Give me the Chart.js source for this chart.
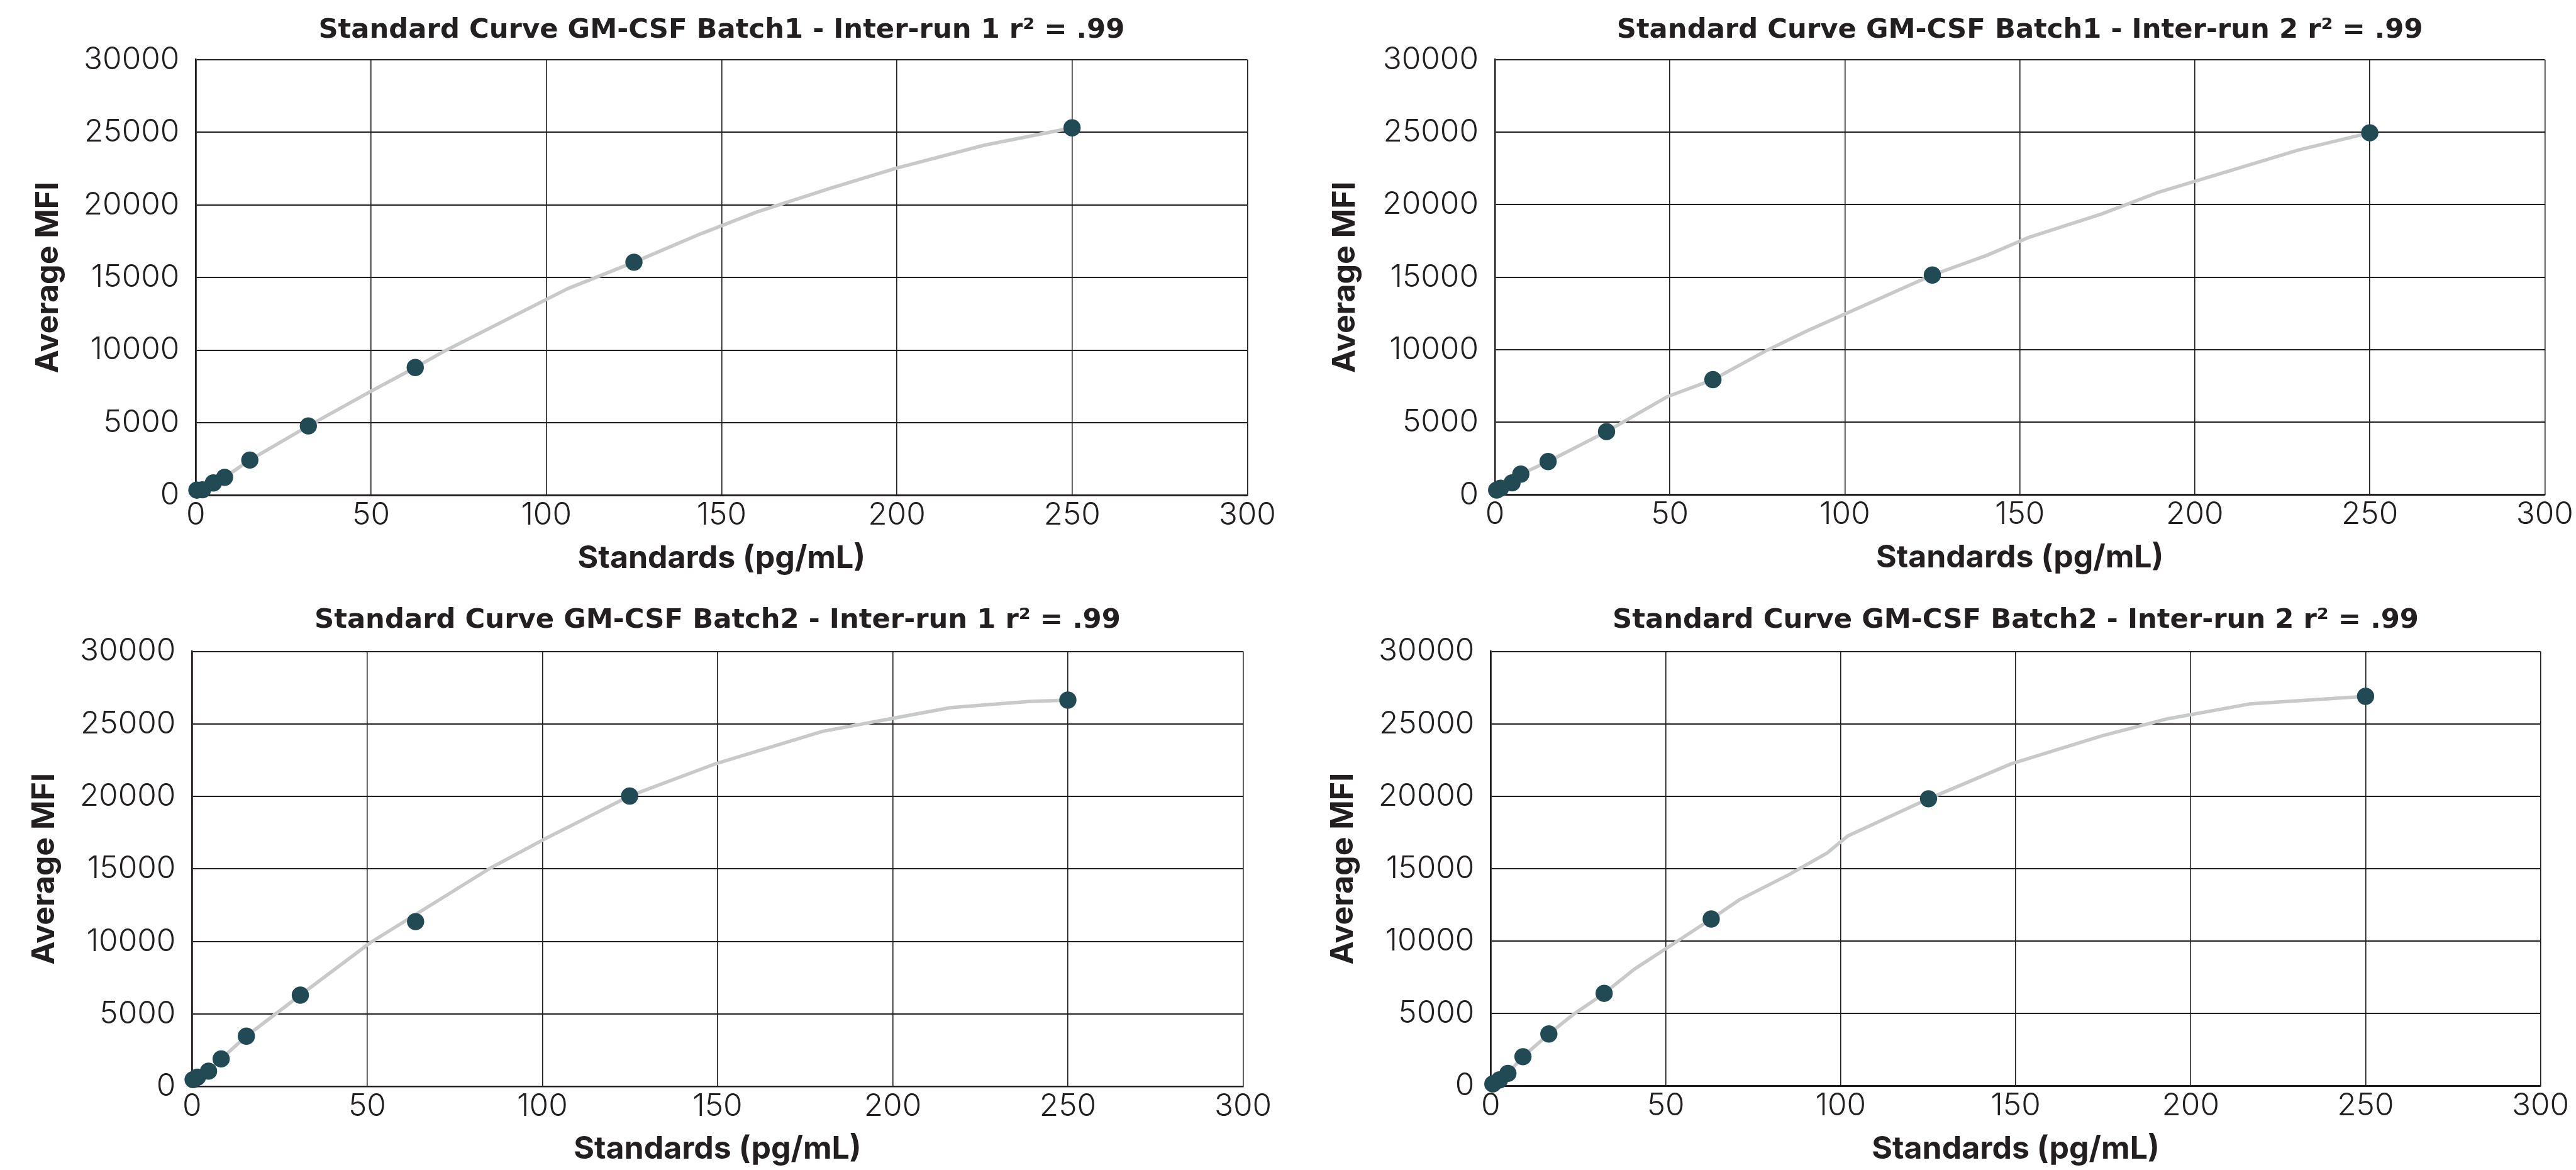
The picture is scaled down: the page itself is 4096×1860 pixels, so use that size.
<!DOCTYPE html>
<html>
<head>
<meta charset="utf-8">
<script src="https://cdn.jsdelivr.net/npm/chart.js@4.4.1/dist/chart.umd.min.js"></script>
<style>
  html, body { margin: 0; padding: 0; background: #ffffff; }
  #wrap { position: relative; width: 4096px; height: 1860px; overflow: hidden; background: #ffffff; }
  canvas { position: absolute; }
</style>
</head>
<body>
<div id="wrap">
  <canvas id="c0" width="2048" height="930" style="left:0px;top:0px"></canvas>
  <canvas id="c1" width="2048" height="930" style="left:2048px;top:0px"></canvas>
  <canvas id="c2" width="2048" height="930" style="left:0px;top:930px"></canvas>
  <canvas id="c3" width="2048" height="930" style="left:2048px;top:930px"></canvas>
</div>
<script>
// ---------- DATA ----------
const chartTitles = [
  'Standard Curve GM-CSF Batch1 - Inter-run 1 r\u00B2 = .99',
  'Standard Curve GM-CSF Batch1 - Inter-run 2 r\u00B2 = .99',
  'Standard Curve GM-CSF Batch2 - Inter-run 1 r\u00B2 = .99',
  'Standard Curve GM-CSF Batch2 - Inter-run 2 r\u00B2 = .99'
];
const xAxisTitle = 'Standards (pg/mL)';
const yAxisTitle = 'Average MFI';
const xTickValues = [0, 50, 100, 150, 200, 250, 300];
const yTickValues = [0, 5000, 10000, 15000, 20000, 25000, 30000];

// Batch1 - Inter-run 1
const b1r1StdX  = [0.3, 1.9, 5.0, 8.2, 15.4, 32.1, 62.6, 125, 250];
const b1r1MfiY  = [360, 385, 855, 1240, 2430, 4780, 8800, 16050, 25300];
const b1r1FitX  = [0.3, 1.9, 5.0, 8.2, 15.4, 32.1, 50, 62.6, 71, 106, 125, 144, 160, 181, 200, 225, 250];
const b1r1FitY  = [360, 385, 855, 1240, 2430, 4780, 7170, 8800, 9940, 14220, 16050, 18000, 19500, 21140, 22530, 24110, 25300];

// Batch1 - Inter-run 2
const b1r2StdX  = [0.5, 1.6, 4.9, 7.4, 15.2, 31.9, 62.3, 125, 250];
const b1r2MfiY  = [330, 460, 825, 1430, 2295, 4360, 7940, 15150, 24950];
const b1r2FitX  = [0.5, 1.6, 4.9, 7.4, 15.2, 31.9, 49.2, 62.3, 77.3, 89.1, 110.2, 125, 140.6, 152.3, 173.4, 189.8, 206.2, 229.7, 250];
const b1r2FitY  = [330, 460, 825, 1430, 2295, 4360, 6760, 7940, 9910, 11290, 13560, 15150, 16510, 17720, 19360, 20870, 22060, 23770, 24950];

// Batch2 - Inter-run 1
const b2r1StdX  = [0.3, 1.5, 4.7, 8.3, 15.5, 30.9, 63.8, 124.9, 250];
const b2r1MfiY  = [470, 640, 1055, 1900, 3470, 6300, 11370, 20030, 26640];
const b2r1FitX  = [0.3, 1.5, 4.7, 8.3, 15.5, 30.9, 50.9, 85, 100.2, 112, 124.9, 149.5, 180, 198.8, 216.4, 238.7, 250];
const b2r1FitY  = [470, 640, 1055, 1900, 3470, 6300, 9920, 15040, 17010, 18450, 20030, 22260, 24490, 25330, 26120, 26540, 26640];

// Batch2 - Inter-run 2
const b2r2StdX  = [0.6, 2.5, 4.9, 9.2, 16.6, 32.4, 63, 125.1, 250];
const b2r2MfiY  = [150, 430, 880, 2030, 3595, 6400, 11530, 19830, 26900];
const b2r2FitX  = [0.6, 2.5, 4.9, 9.2, 16.6, 23.4, 32.4, 41, 52.7, 63, 71, 85.5, 96.1, 102, 125.1, 148.8, 174.6, 193.4, 216.9, 250];
const b2r2FitY  = [150, 430, 880, 2030, 3595, 4910, 6400, 8065, 9905, 11530, 12850, 14630, 16080, 17260, 19830, 22250, 24170, 25350, 26375, 26900];

// ---------- LAYOUT / STYLE ----------
const W = 2048, H = 930;
const TEXT = '#231f20';
const GRID = '#231f20';
const DOT = '#224a55';
const LINE = '#c8c9ca';
const FONT = 'Inter, "Noto Sans", sans-serif';
const TITLE_FONT = '"DejaVu Sans", Inter, sans-serif';
const titleSize = 43.3, axisTitleSize = 50, tickSize = 49.5;

const layouts = [
  { left: 311.4, right: 1983.3, top: 94.7,  bottom: 787.5, titleC: 48.7, yTitleC: 76.5 },
  { left: 329.0, right: 1998.3, top: 94.7,  bottom: 786.7, titleC: 48.7, yTitleC: 91.0 },
  { left: 305.4, right: 1976.5, top: 105.6, bottom: 797.2, titleC: 56.3, yTitleC: 70.5 },
  { left: 322.4, right: 1991.6, top: 105.6, bottom: 796.6, titleC: 56.3, yTitleC: 87.5 }
];

function pts(xs, ys) { return xs.map((x, i) => ({ x: x, y: ys[i] })); }

function makeChart(id, title, dx, dy, fx, fy, L) {
  const tLH = titleSize * 1.2, aLH = axisTitleSize * 1.2, kLH = tickSize * 1.2;
  const titlePadTop = L.titleC - tLH / 2;
  return new Chart(document.getElementById(id), {
    type: 'scatter',
    data: {
      datasets: [
        { data: pts(dx, dy), showLine: false, pointRadius: 13.7, pointHoverRadius: 13.7,
          pointBackgroundColor: DOT, pointBorderColor: DOT, pointBorderWidth: 0,
          backgroundColor: DOT, borderColor: DOT, clip: false, order: 0 },
        { data: pts(fx, fy), showLine: true, pointRadius: 0, pointHoverRadius: 0,
          borderColor: LINE, borderWidth: 5.5, tension: 0, borderCapStyle: 'round',
          borderJoinStyle: 'round', clip: false, order: 1 }
      ]
    },
    options: {
      responsive: false, animation: false, devicePixelRatio: 1, events: [],
      layout: { autoPadding: false, padding: { left: 0, top: 0, bottom: 0, right: W - L.right } },
      plugins: {
        legend: { display: false },
        tooltip: { enabled: false },
        title: {
          display: true, text: title, fullSize: false, color: TEXT,
          font: { family: TITLE_FONT, size: titleSize, weight: 'bold', lineHeight: 1.2 },
          padding: { top: titlePadTop, bottom: L.top - titlePadTop - tLH }
        }
      },
      scales: {
        x: {
          type: 'linear', min: xTickValues[0], max: xTickValues[xTickValues.length - 1],
          afterBuildTicks: s => { s.ticks = xTickValues.map(v => ({ value: v })); },
          afterFit: s => { s.height = H - L.bottom; },
          grid: { color: GRID, lineWidth: 1.6, drawTicks: false },
          border: { color: GRID, width: 2.5 },
          ticks: { color: TEXT, padding: 31.5 - kLH / 2, maxRotation: 0, autoSkip: false,
                   font: { family: FONT, size: tickSize, weight: 300, lineHeight: 1.2 },
                   callback: v => String(v) },
          title: { display: true, text: xAxisTitle, color: TEXT,
                   font: { family: FONT, size: axisTitleSize, weight: 'bold', lineHeight: 1.2 },
                   padding: { top: 0, bottom: H - (L.bottom + 100) - aLH / 2 } }
        },
        y: {
          type: 'linear', min: yTickValues[0], max: yTickValues[yTickValues.length - 1],
          afterBuildTicks: s => { s.ticks = yTickValues.map(v => ({ value: v })); },
          afterFit: s => { s.width = L.left; },
          grid: { color: GRID, lineWidth: 2, drawTicks: false },
          border: { color: GRID, width: 2.5 },
          ticks: { color: TEXT, padding: 26, autoSkip: false,
                   font: { family: FONT, size: tickSize, weight: 300, lineHeight: 1.2 },
                   callback: v => String(v) },
          title: { display: true, text: yAxisTitle, color: TEXT,
                   font: { family: FONT, size: axisTitleSize, weight: 'bold', lineHeight: 1.2 },
                   padding: { top: L.yTitleC - aLH / 2, bottom: 0 } }
        }
      }
    }
  });
}

makeChart('c0', chartTitles[0], b1r1StdX, b1r1MfiY, b1r1FitX, b1r1FitY, layouts[0]);
makeChart('c1', chartTitles[1], b1r2StdX, b1r2MfiY, b1r2FitX, b1r2FitY, layouts[1]);
makeChart('c2', chartTitles[2], b2r1StdX, b2r1MfiY, b2r1FitX, b2r1FitY, layouts[2]);
makeChart('c3', chartTitles[3], b2r2StdX, b2r2MfiY, b2r2FitX, b2r2FitY, layouts[3]);
</script>
</body>
</html>
